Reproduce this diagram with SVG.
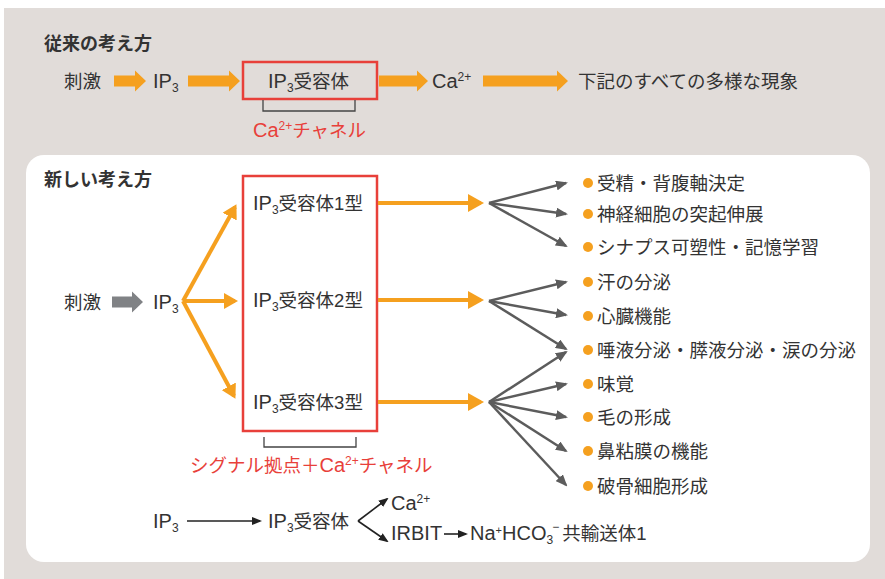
<svg xmlns="http://www.w3.org/2000/svg" width="885" height="579" viewBox="0 0 885 579">
<defs>
<style>
text{font-family:"Liberation Sans","Noto Sans CJK JP",sans-serif;font-size:18.5px;fill:#333}
.L{font-size:20px}
.t{font-weight:bold;font-size:18px}
.red{fill:#e8403a}
.box{fill:none;stroke:#e8403a;stroke-width:2.5}
.blk{fill:#f5a01f}
.gblk{fill:#808285}
.or{stroke:#f5a01f;stroke-width:4;fill:none}
.gr{stroke:#5c5c5c;stroke-width:2.5;fill:none}
.bl{stroke:#222;stroke-width:1.6;fill:none}
.br{stroke:#444;stroke-width:1.3;fill:none}
.dot{fill:#f5a01f}
</style>
<marker id="mo" markerUnits="userSpaceOnUse" markerWidth="16" markerHeight="18" refX="13" refY="9" orient="auto"><path d="M0,0 L16,9 L0,18 Z" fill="#f5a01f"/></marker>
<marker id="mo2" markerUnits="userSpaceOnUse" markerWidth="14" markerHeight="16" refX="11" refY="8" orient="auto"><path d="M0,0 L14,8 L0,16 Z" fill="#f5a01f"/></marker>
<marker id="mg" markerUnits="userSpaceOnUse" markerWidth="12" markerHeight="10" refX="10" refY="5" orient="auto"><path d="M0,0 L12,5 L0,10 Z" fill="#5c5c5c"/></marker>
<marker id="mb" markerUnits="userSpaceOnUse" markerWidth="10" markerHeight="8" refX="8" refY="4" orient="auto"><path d="M0,0 L10,4 L0,8 Z" fill="#222"/></marker>
</defs>
<rect x="4" y="8" width="881" height="571" fill="#e1dcd9"/>
<rect x="26" y="155" width="844" height="407" rx="18" fill="#ffffff"/>

<g id="old-title"><text class="t" x="44" y="50">従来の考え方</text></g>
<g id="old-stim"><text x="64" y="88">刺激</text></g>
<g id="old-ip3"><text x="153" y="88"><tspan class="L">IP</tspan><tspan font-size="12" dy="4">3</tspan></text></g>
<g id="old-receptor">
<rect class="box" x="243" y="62" width="134" height="37"/>
<text x="268" y="88"><tspan class="L">IP</tspan><tspan font-size="12" dy="4">3</tspan><tspan dy="-4">受容体</tspan></text>
<path class="br" d="M263,100 V111 H355 V100"/>
<text class="red" x="253" y="137"><tspan class="L">Ca</tspan><tspan font-size="12" dy="-7">2+</tspan><tspan dy="7">チャネル</tspan></text>
</g>
<g id="old-ca"><text x="432" y="88"><tspan class="L">Ca</tspan><tspan font-size="12" dy="-7">2+</tspan></text></g>
<g id="old-result"><text x="578" y="88">下記のすべての多様な現象</text></g>

<g id="old-connectors">
<polygon class="blk" points="114,75.5 135,75.5 135,70.5 146,81 135,91.5 135,86.5 114,86.5"/>
<polygon class="blk" points="188,75.5 229,75.5 229,70.5 240,81 229,91.5 229,86.5 188,86.5"/>
<polygon class="blk" points="379,75.5 417,75.5 417,70.5 428,81 417,91.5 417,86.5 379,86.5"/>
<polygon class="blk" points="483,75.5 557,75.5 557,70.5 568,81 557,91.5 557,86.5 483,86.5"/>
</g>

<g id="new-title"><text class="t" x="44" y="186">新しい考え方</text></g>
<g id="new-stim"><text x="64" y="309">刺激</text></g>
<g id="new-ip3"><text x="153" y="309"><tspan class="L">IP</tspan><tspan font-size="12" dy="4">3</tspan></text></g>
<g id="new-receptors">
<rect class="box" x="243" y="176" width="134" height="255"/>
<text x="253" y="210"><tspan class="L">IP</tspan><tspan font-size="12" dy="4">3</tspan><tspan dy="-4">受容体1型</tspan></text>
<text x="253" y="307"><tspan class="L">IP</tspan><tspan font-size="12" dy="4">3</tspan><tspan dy="-4">受容体2型</tspan></text>
<text x="253" y="409"><tspan class="L">IP</tspan><tspan font-size="12" dy="4">3</tspan><tspan dy="-4">受容体3型</tspan></text>
<path class="br" d="M264,437 V447 H356 V437"/>
<text class="red" x="190" y="472">シグナル拠点＋<tspan class="L">Ca</tspan><tspan font-size="12" dy="-7">2+</tspan><tspan dy="7">チャネル</tspan></text>
</g>

<g id="items">
<circle class="dot" cx="588" cy="183" r="5"/><text x="597" y="190">受精・背腹軸決定</text>
<circle class="dot" cx="588" cy="214" r="5"/><text x="597" y="221">神経細胞の突起伸展</text>
<circle class="dot" cx="588" cy="247" r="5"/><text x="597" y="254">シナプス可塑性・記憶学習</text>
<circle class="dot" cx="588" cy="282" r="5"/><text x="597" y="289">汗の分泌</text>
<circle class="dot" cx="588" cy="316" r="5"/><text x="597" y="323">心臓機能</text>
<circle class="dot" cx="588" cy="350" r="5"/><text x="597" y="357">唾液分泌・膵液分泌・涙の分泌</text>
<circle class="dot" cx="588" cy="384" r="5"/><text x="597" y="391">味覚</text>
<circle class="dot" cx="588" cy="417" r="5"/><text x="597" y="424">毛の形成</text>
<circle class="dot" cx="588" cy="451" r="5"/><text x="597" y="458">鼻粘膜の機能</text>
<circle class="dot" cx="588" cy="486" r="5"/><text x="597" y="493">破骨細胞形成</text>
</g>

<g id="new-connectors">
<polygon class="gblk" points="112,296.5 132,296.5 132,291.5 143,302 132,312.5 132,307.5 112,307.5"/>
<path class="or" d="M183,301 L235,207" marker-end="url(#mo2)"/>
<path class="or" d="M183,301 L235,301" marker-end="url(#mo2)"/>
<path class="or" d="M183,301 L234,396" marker-end="url(#mo2)"/>
<path class="or" d="M378,203 L481,203" marker-end="url(#mo)"/>
<path class="or" d="M378,300 L481,300" marker-end="url(#mo)"/>
<path class="or" d="M378,402 L481,402" marker-end="url(#mo)"/>
<path class="gr" d="M489,203 L566,183" marker-end="url(#mg)"/>
<path class="gr" d="M489,203 L566,214" marker-end="url(#mg)"/>
<path class="gr" d="M489,203 L566,246" marker-end="url(#mg)"/>
<path class="gr" d="M489,301 L566,282" marker-end="url(#mg)"/>
<path class="gr" d="M489,301 L566,315" marker-end="url(#mg)"/>
<path class="gr" d="M489,301 L566,349" marker-end="url(#mg)"/>
<path class="gr" d="M489,402 L566,352" marker-end="url(#mg)"/>
<path class="gr" d="M489,402 L566,384" marker-end="url(#mg)"/>
<path class="gr" d="M489,402 L566,417" marker-end="url(#mg)"/>
<path class="gr" d="M489,402 L566,451" marker-end="url(#mg)"/>
<path class="gr" d="M489,402 L566,485" marker-end="url(#mg)"/>
</g>

<g id="bottom-ip3"><text x="153" y="528"><tspan class="L">IP</tspan><tspan font-size="12" dy="4">3</tspan></text></g>
<g id="bottom-receptor"><text x="268" y="528"><tspan class="L">IP</tspan><tspan font-size="12" dy="4">3</tspan><tspan dy="-4">受容体</tspan></text></g>
<g id="bottom-ca"><text x="391" y="510"><tspan class="L">Ca</tspan><tspan font-size="12" dy="-7">2+</tspan></text></g>
<g id="bottom-irbit"><text class="L" x="391" y="540">IRBIT</text></g>
<g id="bottom-nbc"><text x="470" y="540"><tspan class="L">Na</tspan><tspan font-size="11" dy="-6">+</tspan><tspan class="L" dy="6">HCO</tspan><tspan font-size="12" dy="4">3</tspan><tspan font-size="12" dx="-1" dy="-13">−</tspan><tspan dy="9" dx="3">共輸送体1</tspan></text></g>
<g id="bottom-connectors">
<path class="bl" d="M187,521 L260,521" marker-end="url(#mb)"/>
<path class="bl" d="M358,521 L387,499" marker-end="url(#mb)"/>
<path class="bl" d="M358,521 L387,541" marker-end="url(#mb)"/>
<path class="bl" d="M444,534 L466,534" marker-end="url(#mb)"/>
</g>
</svg>
